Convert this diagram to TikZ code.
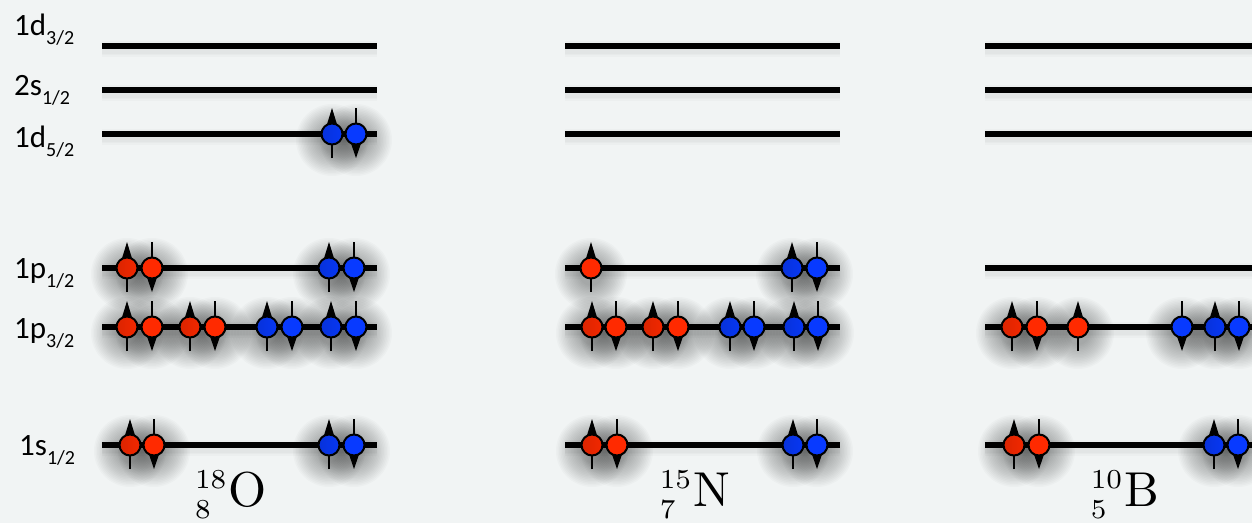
\documentclass[tikz,border=0pt]{standalone}
\usepackage[no-math]{fontspec}
\setmainfont{Carlito}
\usetikzlibrary{calc}
\definecolor{bg}{RGB}{241,244,244}
\definecolor{pred}{RGB}{255,42,0}
\definecolor{pblue}{RGB}{8,58,255}
\pgfdeclarelayer{backdrop}
\pgfdeclarelayer{shadow}
\pgfsetlayers{backdrop,shadow,main}
\tikzset{
  level/.style={line width=5.8pt, black},
  stem/.style={line width=2.6pt, black},
  ball/.style={line width=2pt, draw=black},
  rb/.style={fill=pred},
  rd/.style={left color=pred!86!black, right color=pred!95!black},
  bb/.style={fill=pblue},
  bd/.style={left color=pblue!86!black, right color=pblue!95!black},
  lbl/.style={inner sep=0pt, anchor=base west},
  nuc/.style={inner sep=0pt, anchor=base},
}
% soft shadow under an electron, built from many faint discs
\newcommand\eshadow[2]{%
  \begin{pgfonlayer}{shadow}
    \foreach \rr in {36,34.5,...,11}{\fill[black,opacity=0.018] (#1,#2+6) circle[radius=\rr];}
  \end{pgfonlayer}}
% spin-up and spin-down electrons: x, y, fill style
\newcommand\eu[3]{\eshadow{#1}{#2}%
  \draw[stem] (#1,#2+24) -- (#1,#2-10);
  \fill (#1,#2-26) -- (#1+5.5,#2-8) -- (#1-5.5,#2-8) -- cycle;
  \draw[ball,#3] (#1,#2) circle[radius=10.5];}
\newcommand\ed[3]{\eshadow{#1}{#2}%
  \draw[stem] (#1,#2-26) -- (#1,#2+10);
  \fill (#1,#2+24) -- (#1+5.5,#2+8) -- (#1-5.5,#2+8) -- cycle;
  \draw[ball,#3] (#1,#2) circle[radius=10.5];}
\newcommand\orb[2]{{\fontsize{31}{32}\selectfont #1\raisebox{-9pt}{\fontsize{20}{21}\selectfont #2}}}
\newcommand\nucl[3]{\scalebox{4.9}{$\mathrm{{}^{\scalebox{0.8}{$\scriptstyle #1$}}_{\scalebox{0.8}{$\scriptstyle #2$}}#3}$}}
\begin{document}
\begin{tikzpicture}[x=1pt, y=-1pt]
\begin{pgfonlayer}{backdrop}
  \fill[bg] (0,0) rectangle (1252,523);
\end{pgfonlayer}
\useasboundingbox (0,0) rectangle (1252,523);

% shell labels
\node[lbl] (l-d32) at (14,35)  {\orb{1d}{3/2}};
\node[lbl] (l-s12) at (14,95)  {\orb{2s}{1/2}};
\node[lbl] (l-d52) at (14,147) {\orb{1d}{5/2}};
\node[lbl] (l-p12) at (14,278) {\orb{1p}{1/2}};
\node[lbl] (l-p32) at (14,338) {\orb{1p}{3/2}};
\node[lbl] (l-s1)  at (19,455) {\orb{1s}{1/2}};

% single-particle levels of the three nuclei
\foreach \p/\a/\b in {O/102/377, N/565/840, B/985/1252}{
  \foreach \r/\y in {d32/46, s12/90, d52/134, p12/268, p32/327, s1/445}{
    \coordinate (\p-\r-l) at (\a,\y);
    \coordinate (\p-\r-r) at (\b,\y);
    \begin{pgfonlayer}{shadow}
      \foreach \w in {16,12,9}{\draw[line width=\w pt, opacity=0.018] ([yshift=-3pt]\p-\r-l) -- ([yshift=-3pt]\p-\r-r);}
    \end{pgfonlayer}
    \draw[level] (\p-\r-l) -- (\p-\r-r);
  }
}

% oxygen-18
\eu{332}{134}{bd} \ed{356}{134}{bb}
\eu{127}{268}{rd} \ed{152}{268}{rb} \eu{329}{268}{bd} \ed{354}{268}{bb}
\eu{127}{327}{rd} \ed{152}{327}{rb} \eu{190}{327}{rd} \ed{215}{327}{rb}
\eu{267}{327}{bd} \ed{292}{327}{bb} \eu{331}{327}{bd} \ed{356}{327}{bb}
\eu{130}{445}{rd} \ed{154}{445}{rb} \eu{329}{445}{bd} \ed{354}{445}{bb}

% nitrogen-15
\eu{591}{268}{rb} \eu{792}{268}{bd} \ed{817}{268}{bb}
\eu{592}{327}{rd} \ed{616}{327}{rb} \eu{653}{327}{rd} \ed{678}{327}{rb}
\eu{730}{327}{bd} \ed{754}{327}{bb} \eu{794}{327}{bd} \ed{818}{327}{bb}
\eu{592}{445}{rd} \ed{617}{445}{rb} \eu{793}{445}{bd} \ed{817}{445}{bb}

% boron-10
\eu{1012}{327}{rd} \ed{1037}{327}{rb} \eu{1078}{327}{rb}
\ed{1182}{327}{bb} \eu{1215}{327}{bd} \ed{1239}{327}{bb}
\eu{1014}{445}{rd} \ed{1039}{445}{rb} \eu{1214}{445}{bd} \ed{1238}{445}{bb}

% nuclide symbols
\node[nuc] (n-O) at (231,506) {\nucl{18}{8}{O}};
\node[nuc] (n-N) at (695,506) {\nucl{15}{7}{N}};
\node[nuc] (n-B) at (1125,506) {\nucl{10}{5}{B}};
\end{tikzpicture}
\end{document}
